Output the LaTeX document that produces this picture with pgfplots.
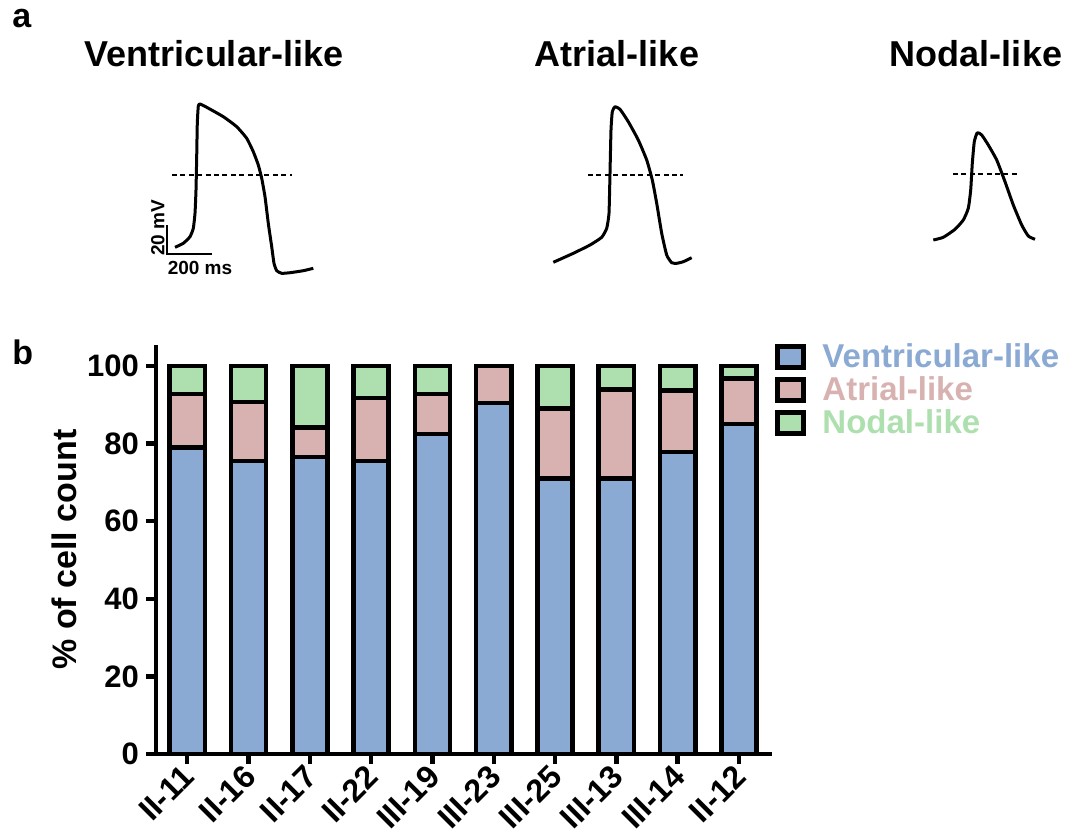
\documentclass[border=0pt]{standalone}
\usepackage{pgfplots}
\pgfplotsset{compat=1.18}
\usepackage{fontspec}
\setmainfont{Liberation Sans}
\definecolor{vblue}{HTML}{8BAAD3}
\definecolor{apink}{HTML}{D8B1B1}
\definecolor{ngreen}{HTML}{AEDFAE}
\newcommand{\fs}[1]{\fontsize{#1}{#1}\selectfont\bfseries}
\begin{document}
\begin{tikzpicture}
\useasboundingbox (0,0) rectangle (536pt,418.5pt);
% ---------- panel a: traces (coordinates in picture pixels) ----------
\begin{axis}[at={(0pt,418.5pt)}, anchor=north west, scale only axis,
  width=536pt, height=150pt, xmin=0, xmax=1072, ymin=0, ymax=300,
  y dir=reverse, hide axis, clip=false]
\addplot[black, line width=1.5pt, smooth, tension=0.3, line join=round] coordinates {
(175.0,247.3) (183.3,243.3) (190.0,236.7) (193.3,228.3) (195.0,213.3) (196.0,190.0)
(196.7,156.7) (197.3,123.3) (198.3,106.0) (200.0,104.0) (206.7,107.3) (223.3,116.7)
(236.7,126.7) (246.7,138.3) (253.3,151.7) (258.3,165.0) (261.7,178.3) (265.0,196.7)
(268.3,223.3) (271.7,246.7) (274.0,263.3) (276.7,270.7) (281.7,273.3) (290.0,272.7)
(303.3,270.7) (313.3,268.3)};
\addplot[black, line width=1.5pt, smooth, tension=0.3, line join=round] coordinates {
(553.3,262.3) (573.3,253.3) (590.0,245.0) (601.7,237.3) (606.7,228.3) (609.0,213.3)
(610.0,173.3) (611.0,130.0) (612.3,111.7) (615.0,106.7) (620.0,109.3) (628.3,121.7)
(638.3,140.0) (646.7,160.0) (652.3,180.0) (656.7,203.3) (661.7,233.3) (666.7,255.0)
(671.7,262.7) (676.7,263.3) (683.3,261.7) (691.7,257.7)};
\addplot[black, line width=1.5pt, smooth, tension=0.3, line join=round] coordinates {
(933.3,240) (943.3,237.3) (955,229.3) (963.3,220) (968.3,208.3) (970.7,190)
(972.3,163.3) (974.3,141.7) (977.3,132.7) (981.7,135) (988.3,145) (996.7,160)
(1005,181.7) (1013.3,205) (1021.7,225) (1028.3,236) (1035,239.3)};
\addplot[black, line width=0.9pt, dash pattern=on 2.5pt off 1.7pt] coordinates {(172,175) (292,175)};
\addplot[black, line width=0.9pt, dash pattern=on 2.5pt off 1.7pt] coordinates {(588,175) (683,175)};
\addplot[black, line width=0.9pt, dash pattern=on 2.5pt off 1.7pt] coordinates {(953,174) (1018,174)};
\addplot[black, line width=0.75pt] coordinates {(167,225) (167,254) (212,254)};
\node[anchor=south, rotate=90, inner sep=0pt, font=\fs{9.5}] at (axis cs:165,228) {20 mV};
\node[anchor=center, inner sep=0pt, font=\fs{9.5}] at (axis cs:200,268) {200 ms};
\node[anchor=base, inner sep=0pt, font=\fs{18}] at (axis cs:214,66) {Ventricular-like};
\node[anchor=base, inner sep=0pt, font=\fs{18}] at (axis cs:617,66) {Atrial-like};
\node[anchor=base, inner sep=0pt, font=\fs{18}] at (axis cs:976,66) {Nodal-like};
\node[anchor=base west, inner sep=0pt, font=\fs{17}] at (axis cs:12,27) {a};
\end{axis}
\node[anchor=base west, inner sep=0pt, font=\fs{17}] at (6pt,236pt) {b};
% ---------- panel b: stacked bars ----------
\begin{axis}[at={(78pt,41.5pt)}, anchor=south west, scale only axis,
  width=308pt, height=204.5pt,
  xmin=-0.51, xmax=9.54, ymin=0, ymax=105.4,
  ybar stacked, bar width=17.6pt,
  axis lines*=left, axis line style={line width=2.2pt, black},
  tick style={black, line width=2.2pt}, major tick length=5pt, tick align=outside,
  ytick={0,20,40,60,80,100},
  xtick={0,1,2,3,4,5,6,7,8,9},
  xticklabels={II-11,II-16,II-17,II-22,III-19,III-23,III-25,III-13,III-14,II-12},
  /pgf/number format/assume math mode=true,
  yticklabel style={font=\fs{15.5}},
  xticklabel style={rotate=45, anchor=east, font=\fs{16}, yshift=-3pt, xshift=1.5pt},
  ylabel={\% of cell count},
  ylabel style={font=\fs{17}, at={(axis description cs:-0.148,0.5)}, anchor=center},
  legend style={at={(axis description cs:1.005,1.015)}, anchor=north west,
    draw=none, fill=none, font=\fs{16.5}, row sep=-1pt, inner sep=0pt},
  legend cell align=left,
  legend image code/.code={\draw[#1, line width=2.5pt] (0pt,-5.25pt) rectangle (13pt,5.25pt);},
]
\addplot[fill=vblue, draw=black, line width=2.3pt] coordinates {
(0,79) (1,75.5) (2,76.5) (3,75.5) (4,82.5) (5,90.5) (6,71) (7,71) (8,77.8) (9,85)};
\addlegendentry{\hspace{6pt}\textcolor{vblue}{Ventricular-like}}
\addplot[fill=apink, draw=black, line width=2.3pt] coordinates {
(0,13.8) (1,15.2) (2,7.7) (3,16.2) (4,10.3) (5,9.5) (6,18) (7,23) (8,15.8) (9,11.8)};
\addlegendentry{\hspace{6pt}\textcolor{apink}{Atrial-like}}
\addplot[fill=ngreen, draw=black, line width=2.3pt] coordinates {
(0,7.2) (1,9.3) (2,15.8) (3,8.3) (4,7.2) (5,0) (6,11) (7,6) (8,6.4) (9,3.2)};
\addlegendentry{\hspace{6pt}\textcolor{ngreen}{Nodal-like}}
\end{axis}
\end{tikzpicture}
\end{document}
